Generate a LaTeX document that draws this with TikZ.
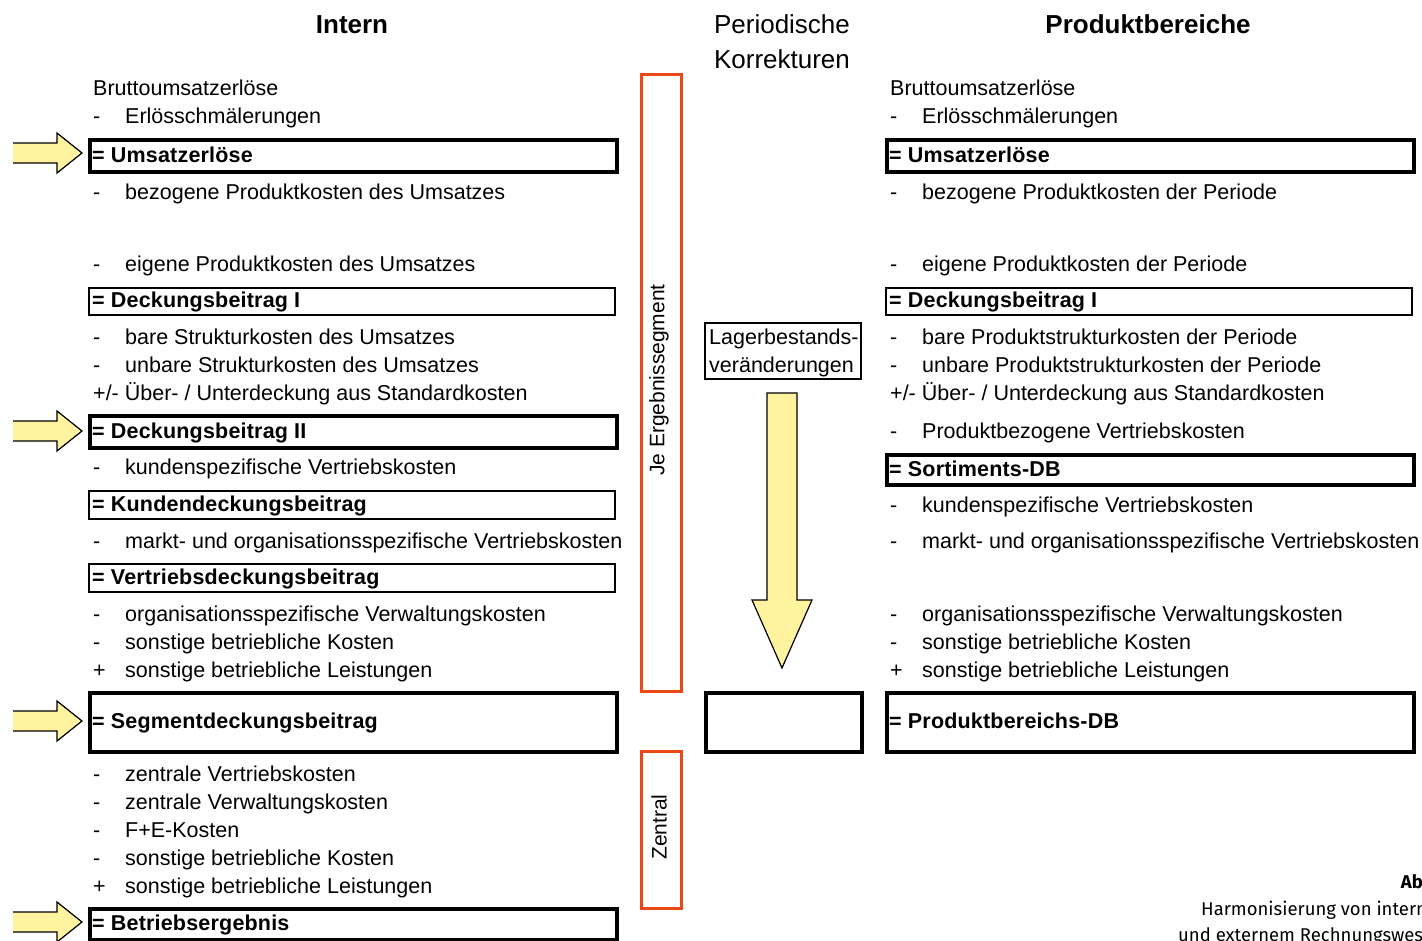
\documentclass[tikz,border=0pt]{standalone}
\usepackage{fontspec}
\setmainfont{Liberation Sans}
\newfontfamily\capfont{Fira Sans}
\newfontfamily\boldwide[LetterSpace=0.9]{Liberation Sans}
\definecolor{arrowyellow}{RGB}{255,243,160}
\definecolor{segorange}{RGB}{235,72,24}
\tikzset{
  txt/.style={anchor=base west, inner sep=0pt, font=\fontsize{21.5}{25}\selectfont},
  btxt/.style={anchor=base west, inner sep=0pt, font=\boldwide\fontsize{21.5}{25}\selectfont\bfseries},
  ttl/.style={anchor=base, inner sep=0pt, font=\fontsize{26}{35}\selectfont},
  thickbox/.style={draw, line width=4pt, anchor=north west, inner sep=0pt},
  thinbox/.style={draw, line width=2pt, anchor=north west, inner sep=0pt},
  orangebox/.style={draw=segorange, line width=2.5pt, anchor=north west, inner sep=0pt},
}
% name, x of symbol, y centre, symbol, text
\newcommand\TRow[5]{\node[txt] (#1s) at (#2,#3+7.5) {#4};\node[txt] (#1) at (#2+32,#3+7.5) {#5};}
% name, x, ytop, width, height, style, text
\newcommand\SBox{}
\renewcommand\SBox[7]{\node[#6, minimum width=#4, minimum height=#5] (#1) at (#2,#3) {};
  \node[btxt] (#1t) at ([xshift=4pt,yshift=-6pt]#1.west) {#7};}
\newcommand\LArrow[1]{\fill[arrowyellow] (13,#1-10)--(57,#1-10)--(57,#1-20)--(82,#1)--(57,#1+20)--(57,#1+10)--(13,#1+10)--cycle;
  \draw[black, line width=1.2pt, line join=miter] (13,#1-10)--(57,#1-10)--(57,#1-20)--(82,#1)--(57,#1+20)--(57,#1+10)--(13,#1+10);}
\begin{document}
\begin{tikzpicture}[x=1pt,y=-1pt]
\useasboundingbox (0,0) rectangle (1422,940);
% titles
\node[ttl, font=\fontsize{26}{35}\selectfont\bfseries] (tInt) at (352,33.5) {Intern};
\node[ttl] (tPer1) at (782,33.5) {Periodische};
\node[ttl] (tPer2) at (782,68.5) {Korrekturen};
\node[ttl, font=\fontsize{26}{35}\selectfont\bfseries] (tProd) at (1148,33.5) {Produktbereiche};

% ---------- left column ----------
\node[txt] (L0) at (93,95.5) {Bruttoumsatzerlöse};
\TRow{L1}{93}{116}{-}{Erlösschmälerungen}
\SBox{LB1}{88}{138}{527}{32}{thickbox}{= Umsatzerlöse}
\TRow{L2}{93}{192}{-}{bezogene Produktkosten des Umsatzes}
\TRow{L3}{93}{264}{-}{eigene Produktkosten des Umsatzes}
\SBox{LB2}{88}{287}{526}{27}{thinbox}{= Deckungsbeitrag I}
\TRow{L4}{93}{337}{-}{bare Strukturkosten des Umsatzes}
\TRow{L5}{93}{365}{-}{unbare Strukturkosten des Umsatzes}
\node[txt] (L6) at (93,400.5) {+/- Über- / Unterdeckung aus Standardkosten};
\SBox{LB3}{88}{414}{527}{32}{thickbox}{= Deckungsbeitrag II}
\TRow{L7}{93}{467}{-}{kundenspezifische Vertriebskosten}
\SBox{LB4}{88}{490}{526}{28}{thinbox}{= Kundendeckungsbeitrag}
\TRow{L8}{93}{541}{-}{markt- und organisationsspezifische Vertriebskosten}
\SBox{LB5}{88}{563}{526}{28}{thinbox}{= Vertriebsdeckungsbeitrag}
\TRow{L9}{93}{614}{-}{organisationsspezifische Verwaltungskosten}
\TRow{L10}{93}{642}{-}{sonstige betriebliche Kosten}
\TRow{L11}{93}{670}{+}{sonstige betriebliche Leistungen}
\SBox{LB6}{88}{691}{527}{59}{thickbox}{= Segmentdeckungsbeitrag}
\TRow{L12}{93}{774}{-}{zentrale Vertriebskosten}
\TRow{L13}{93}{802}{-}{zentrale Verwaltungskosten}
\TRow{L14}{93}{830}{-}{F+E-Kosten}
\TRow{L15}{93}{858}{-}{sonstige betriebliche Kosten}
\TRow{L16}{93}{886}{+}{sonstige betriebliche Leistungen}
\SBox{LB7}{88}{907}{527}{31}{thickbox}{= Betriebsergebnis}

% left arrows
\LArrow{153}
\LArrow{431}
\LArrow{721}
\LArrow{922}

% orange segment boxes
\node[orangebox, minimum width=40, minimum height=617] (seg) at (640,73) {};
\node[inner sep=0pt, rotate=90, font=\fontsize{21}{25}\selectfont] (segt) at (659,380) {Je Ergebnissegment};
\node[orangebox, minimum width=40, minimum height=157] (zen) at (640,750) {};
\node[inner sep=0pt, rotate=90, font=\fontsize{21}{25}\selectfont] (zent) at (659,827) {Zentral};

% middle
\node[thinbox, minimum width=156, minimum height=56] (lag) at (704,322) {};
\node[txt] (lag1) at (709,344.5) {Lagerbestands-};
\node[txt] (lag2) at (709,372.5) {veränderungen};
\fill[arrowyellow] (767,393)--(797,393)--(797,600)--(812,600)--(782,668)--(752,600)--(767,600)--cycle;
\draw[black, line width=1.2pt, line join=miter] (767,393)--(797,393)--(797,600)--(812,600)--(782,668)--(752,600)--(767,600)--cycle;
\node[thickbox, minimum width=156, minimum height=59] (emp) at (704,691) {};

% ---------- right column ----------
\node[txt] (R0) at (890,95.5) {Bruttoumsatzerlöse};
\TRow{R1}{890}{116}{-}{Erlösschmälerungen}
\SBox{RB1}{885}{138}{527}{32}{thickbox}{= Umsatzerlöse}
\TRow{R2}{890}{192}{-}{bezogene Produktkosten der Periode}
\TRow{R3}{890}{264}{-}{eigene Produktkosten der Periode}
\SBox{RB2}{885}{287}{526}{27}{thinbox}{= Deckungsbeitrag I}
\TRow{R4}{890}{337}{-}{bare Produktstrukturkosten der Periode}
\TRow{R5}{890}{365}{-}{unbare Produktstrukturkosten der Periode}
\node[txt] (R6) at (890,400.5) {+/- Über- / Unterdeckung aus Standardkosten};
\TRow{R7}{890}{431}{-}{Produktbezogene Vertriebskosten}
\SBox{RB3}{885}{453}{527}{30}{thickbox}{= Sortiments-DB}
\TRow{R8}{890}{505}{-}{kundenspezifische Vertriebskosten}
\TRow{R9}{890}{541}{-}{markt- und organisationsspezifische Vertriebskosten}
\TRow{R10}{890}{614}{-}{organisationsspezifische Verwaltungskosten}
\TRow{R11}{890}{642}{-}{sonstige betriebliche Kosten}
\TRow{R12}{890}{670}{+}{sonstige betriebliche Leistungen}
\SBox{RB4}{885}{691}{527}{59}{thickbox}{= Produktbereichs-DB}

% caption (cut at the page edge, as in the reference)
\node[anchor=base east, inner sep=0pt, font=\capfont\fontsize{18.5}{22}\selectfont\bfseries] (cap0) at (1423,888) {Ab};
\node[anchor=base west, inner sep=0pt, font=\capfont\fontsize{18.5}{22}\selectfont] (cap1) at (1201,915) {Harmonisierung von intern};
\node[anchor=base west, inner sep=0pt, font=\capfont\fontsize{18.5}{22}\selectfont] (cap2) at (1178,941) {und externem Rechnungswes};
\end{tikzpicture}
\end{document}
